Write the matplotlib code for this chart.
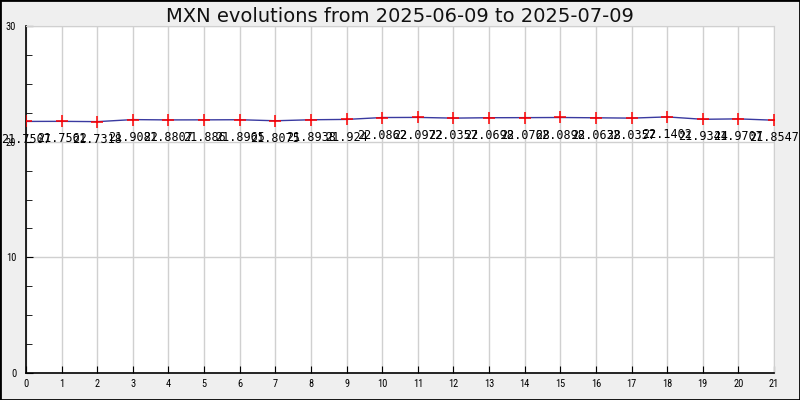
import matplotlib
matplotlib.use("Agg")
import matplotlib.pyplot as plt
from matplotlib.ticker import MultipleLocator
from matplotlib import font_manager

title = "MXN evolutions from 2025-06-09 to 2025-07-09"
days = list(range(22))
values = [21.7507, 21.7562, 21.7318, 21.9082, 21.8807, 21.886, 21.8965, 21.8075,
          21.8938, 21.924, 22.0862, 22.0972, 22.0357, 22.0698, 22.0768, 22.0898,
          22.0638, 22.0357, 22.1402, 21.9344, 21.9707, 21.8547]
labels = ["21.7507", "21.7562", "21.7318", "21.9082", "21.8807", "21.886", "21.8965",
          "21.8075", "21.8938", "21.924", "22.0862", "22.0972", "22.0357", "22.0698",
          "22.0768", "22.0898", "22.0638", "22.0357", "22.1402", "21.9344", "21.9707",
          "21.8547"]

names = {f.name for f in font_manager.fontManager.ttflist}
cond = "DejaVu Sans"
for cand in ["Roboto Condensed", "Barlow Condensed", "Encode Sans Condensed",
             "Archivo Narrow", "PT Sans Narrow", "Liberation Sans Narrow"]:
    if cand in names:
        cond = cand
        break

fig = plt.figure(figsize=(8, 4), dpi=100, facecolor="#efefef")
ax = fig.add_axes([0.0325, 0.0675, 0.935, 0.8675])
ax.set_facecolor("white")

ax.plot(days, values, color="#3a3aa0", lw=1.0, zorder=3)
ax.plot(days, values, ls="none", marker="+", ms=9, mew=1.1, color="red", zorder=4)

for x, v, t in zip(days, values, labels):
    ax.annotate(t, (x, v), xytext=(0, -8), textcoords="offset points",
                ha="center", va="top", fontsize=8.5, family="DejaVu Sans Mono",
                color="black", zorder=5, annotation_clip=False)

ax.set_xlim(0, 21)
ax.set_ylim(0, 30)
ax.set_xticks(days)
ax.yaxis.set_major_locator(MultipleLocator(10))
ax.yaxis.set_minor_locator(MultipleLocator(2.5))
ax.grid(True, which="major", color="#d0d0d0", lw=1)
ax.set_axisbelow(True)
ax.tick_params(axis="both", which="both", direction="in", labelsize=7.5, color="black")
ax.tick_params(axis="y", which="major", length=5, pad=7)
ax.tick_params(axis="y", which="minor", length=4)
ax.tick_params(axis="x", which="major", length=5, pad=4)
for lab in ax.get_yticklabels() + ax.get_xticklabels():
    lab.set_family(cond)
for s in ["top", "right"]:
    ax.spines[s].set_color("#d0d0d0")
for s in ["left", "bottom"]:
    ax.spines[s].set_color("black")
    ax.spines[s].set_linewidth(1.2)

t = fig.text(0.5, 0.96, title, ha="center", va="center", fontsize=15,
             family="DejaVu Sans", color="#111111")
r = fig.canvas.get_renderer()
w = t.get_window_extent(r).width
t.set_fontsize(15 * 467.0 / w)

fig.patches.append(plt.Rectangle((0, 0), 1, 1, transform=fig.transFigure, fill=False,
                                 edgecolor="black", lw=2))

fig.savefig("out.png", dpi=100, facecolor=fig.get_facecolor())
